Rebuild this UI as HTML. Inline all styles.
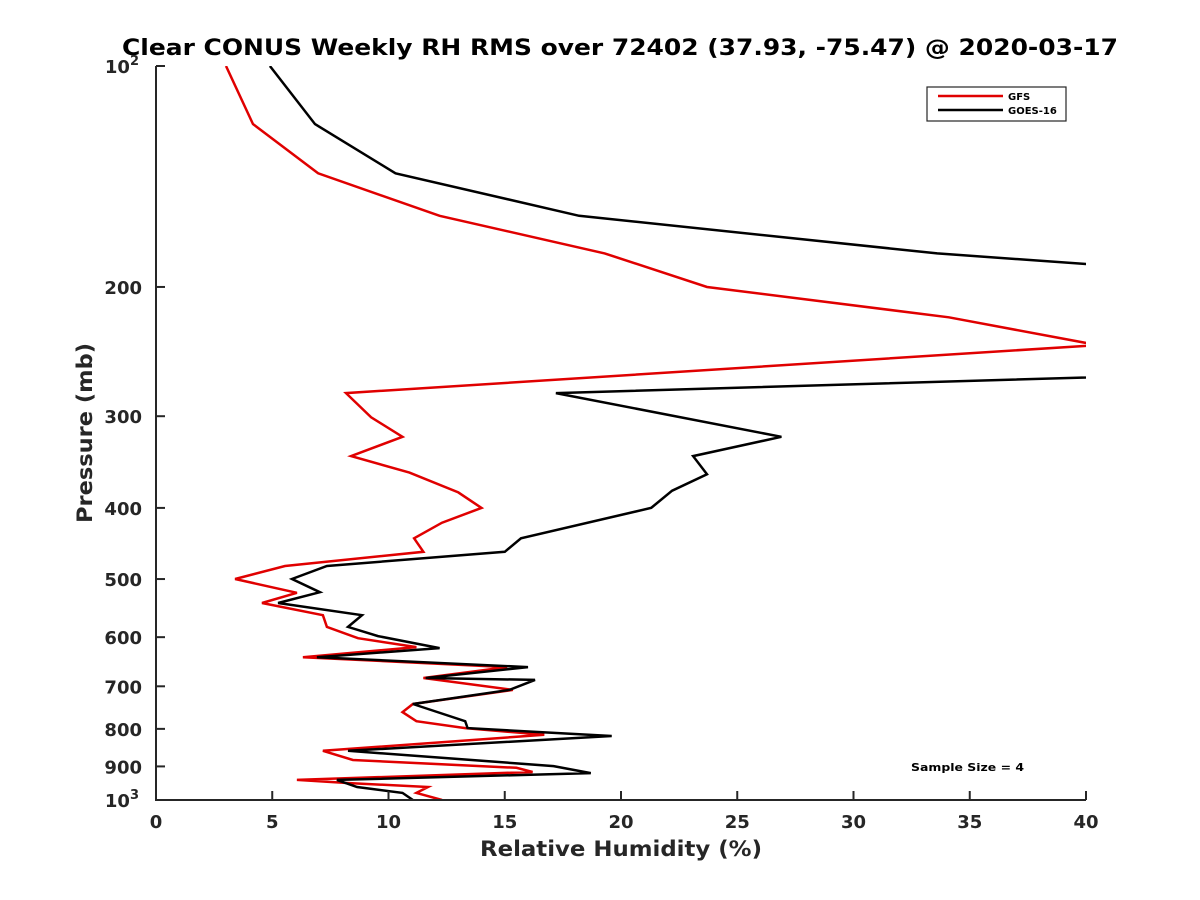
<!DOCTYPE html>
<html><head><meta charset="utf-8"><style>
body{margin:0;background:#fff;}
svg{display:block;font-family:"DejaVu Sans","Liberation Sans",sans-serif;}
</style></head><body>
<svg id="chart" width="1200" height="900" viewBox="0 0 1200 900">
<rect width="1200" height="900" fill="#fff"/>
<defs><clipPath id="plotclip"><rect x="156" y="66" width="930" height="734"/></clipPath></defs>
<text x="620" y="55" text-anchor="middle" font-size="22" font-weight="bold" fill="#000" textLength="996" lengthAdjust="spacingAndGlyphs">Clear CONUS Weekly RH RMS over 72402 (37.93, -75.47) @ 2020-03-17</text>
<g id="series" clip-path="url(#plotclip)"></g>
<g id="axes"></g>
<text x="621" y="856" text-anchor="middle" font-size="21" font-weight="bold" fill="#262626" textLength="282" lengthAdjust="spacingAndGlyphs">Relative Humidity (%)</text>
<text transform="translate(92,433) rotate(-90)" text-anchor="middle" font-size="21" font-weight="bold" fill="#262626" textLength="180" lengthAdjust="spacingAndGlyphs">Pressure (mb)</text>
<g>
<rect x="927" y="87" width="139" height="34" fill="#fff" stroke="#262626" stroke-width="1.2"/>
<line x1="938" y1="96" x2="1003" y2="96" stroke="#e00000" stroke-width="2.5"/>
<text x="1008" y="100" font-size="10" font-weight="bold" fill="#000">GFS</text>
<line x1="938" y1="110" x2="1003" y2="110" stroke="#000" stroke-width="2.5"/>
<text x="1008" y="114" font-size="10" font-weight="bold" fill="#000">GOES-16</text>
</g>
<text x="911" y="771" font-size="11" font-weight="bold" fill="#000" textLength="113" lengthAdjust="spacingAndGlyphs">Sample Size = 4</text>
</svg>
<script>
const gfsRH = [3.01,4.17,6.97,12.2,19.3,23.7,34.1,40.5,8.17,9.25,10.6,8.39,10.9,13.0,14.0,12.3,11.1,11.5,5.55,3.40,6.06,4.56,7.18,7.35,8.69,11.2,6.32,15.1,11.5,15.35,11.05,10.6,11.2,13.3,16.7,7.18,8.47,15.5,16.2,6.06,8.22,11.7,11.2,12.3];
const gfsP = [100,120,140,160,180,200,220,240,279,301,320,340,358,381,400,419,440,459,480,500,522,539,560,581,602,619,639,659,682,708,740,759,781,798,815,857,882,904,916,939,948,960,978,1000];
const goesRH = [4.90,6.84,10.3,18.2,33.6,44,50,17.2,26.9,23.1,23.7,22.2,21.3,15.7,15.0,7.35,5.85,7.05,5.25,8.86,8.26,9.55,12.2,6.92,16.0,11.6,16.3,15.2,11.05,13.3,13.4,19.6,8.26,17.1,18.7,7.78,8.65,10.6,11.05];
const goesP = [100,120,140,160,180,190,260,279,320,340,360,379,400,440,459,480,500,521,539,560,581,598,621,639,659,682,686,708,740,781,798,818,857,899,919,939,960,978,1000];
const xTicks = [0,5,10,15,20,25,30,35,40];
const yTicks = [100,200,300,400,500,600,700,800,900,1000];
const yTickLabels = ["10","200","300","400","500","600","700","800","900","10"];

const X0=156,X1=1086,Y0=66,Y1=800,xMin=0,xMax=40,pMin=100,pMax=1000;
const xs=v=>X0+(v-xMin)/(xMax-xMin)*(X1-X0);
const ys=p=>Y0+Math.log10(p/pMin)/Math.log10(pMax/pMin)*(Y1-Y0);
const NS="http://www.w3.org/2000/svg";
const series=document.getElementById('series'), axes=document.getElementById('axes');
function mk(tag,attrs,parent){const e=document.createElementNS(NS,tag);for(const k in attrs)e.setAttribute(k,attrs[k]);parent.appendChild(e);return e;}
function line(rh,p,color,name){
  const pts=rh.map((v,i)=>xs(v).toFixed(1)+','+ys(p[i]).toFixed(1)).join(' ');
  const el=mk('polyline',{points:pts,fill:'none',stroke:color,'stroke-width':2.5,'stroke-linejoin':'miter'},series);
  
  
}
line(gfsRH,gfsP,'#e00000','gfs-line');
line(goesRH,goesP,'#000','goes16-line');
const ax=mk('path',{d:`M${X0},${Y0}V${Y1}H${X1}`,fill:'none',stroke:'#262626','stroke-width':2},axes);


xTicks.forEach(v=>{
  const x=xs(v);
  mk('line',{x1:x,y1:Y1,x2:x,y2:Y1-9,stroke:'#262626','stroke-width':2},axes);
  const t=mk('text',{x:x,y:828,'text-anchor':'middle','font-size':18,'font-weight':'bold',fill:'#262626'},axes);
  t.textContent=v;
  
  
});
yTicks.forEach((p,i)=>{
  const y=ys(p);
  mk('line',{x1:X0,y1:y,x2:X0+9,y2:y,stroke:'#262626','stroke-width':2},axes);
  const t=mk('text',{x:142,y:y+7,'text-anchor':'end','font-size':18,'font-weight':'bold',fill:'#262626'},axes);
  
  
  if(p===100||p===1000){
    t.setAttribute('x',139);
    t.textContent=yTickLabels[i];
    const s=mk('tspan',{'font-size':13,dy:-8},t);
    s.textContent=p===100?'2':'3';
  } else t.textContent=yTickLabels[i];
});
</script>
</body></html>
